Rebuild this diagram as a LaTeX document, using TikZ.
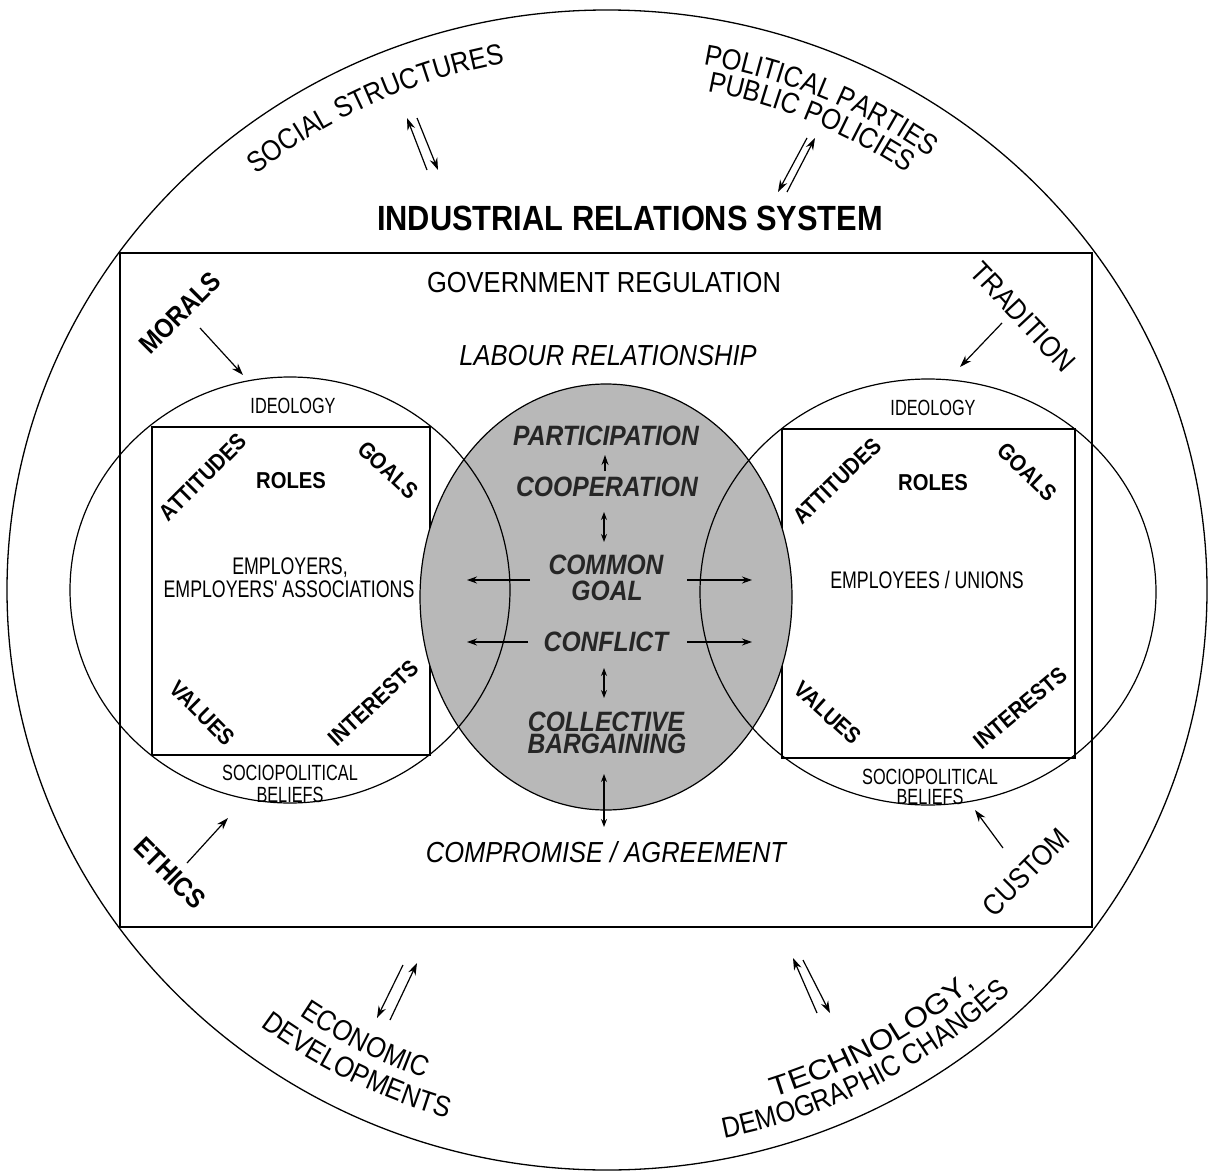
\documentclass[tikz,border=0pt]{standalone}
\usepackage{fontspec}
\setmainfont{Liberation Sans}
\newfontfamily\fA[FakeStretch=0.88]{Liberation Sans}
\newfontfamily\fB[FakeStretch=0.74]{Liberation Sans}
\newfontfamily\fC[FakeStretch=1.14]{Liberation Sans}
\usetikzlibrary{decorations.text,arrows.meta}
\tikzset{
  lbl/.style={font=\fA\fontsize{29}{31}\selectfont, inner sep=0pt},
  lbli/.style={font=\fA\itshape\fontsize{29}{31}\selectfont, inner sep=0pt},
  titl/.style={font=\fA\bfseries\fontsize{35}{37}\selectfont, inner sep=0pt},
  core/.style={font=\fA\bfseries\itshape\fontsize{28}{30}\selectfont, inner sep=0pt, text=black!85},
  cond/.style={font=\fB\fontsize{22}{24}\selectfont, inner sep=0pt},
  condl/.style={font=\fB\fontsize{24}{26}\selectfont, inner sep=0pt},
  diag/.style={font=\fA\bfseries\fontsize{23}{25}\selectfont, inner sep=0pt},
  outl/.style={font=\fA\fontsize{29}{31}\selectfont, inner sep=0pt},
  outb/.style={font=\fA\bfseries\fontsize{27}{29}\selectfont, inner sep=0pt},
  arr/.style={-{Stealth[length=12pt,width=8pt]}, line width=1.2pt},
  smarr/.style={-{Stealth[length=10pt,width=7pt]}, line width=1.1pt},
  dbl/.style={{Stealth[length=8pt,width=6pt]}-{Stealth[length=8pt,width=6pt]}, line width=1.1pt},
  shape line/.style={line width=1.2pt},
  curved/.style={decorate, decoration={text along path, text align=center, text={#1}}}
}
\begin{document}
\begin{tikzpicture}[x=1pt,y=-1pt]
\useasboundingbox (0,0) rectangle (1212,1174);
% outer circle and frame
\draw[line width=1.3pt] (607,590) ellipse [x radius=600, y radius=580];
\draw[line width=1.6pt] (120,253) rectangle (1092,927);
% inner squares (drawn under the shaded ellipse)
\draw[shape line] (152,427) rectangle (430,755);
\draw[shape line] (782,429) rectangle (1075,758);
% shaded central ellipse
\draw[shape line, fill=black!28] (606,597) ellipse [x radius=186, y radius=213];
% side circles
\draw[shape line] (290,590) ellipse [x radius=220, y radius=213];
\draw[shape line] (928,592) ellipse [x radius=228, y radius=213];

% title and frame texts
\node[titl] (irs) at (630,218) {INDUSTRIAL RELATIONS SYSTEM};
\node[lbl] (gov) at (604,283) {GOVERNMENT REGULATION};
\node[lbli] (lab) at (608,356) {LABOUR RELATIONSHIP};
\node[lbli] (comp) at (606,852) {COMPROMISE / AGREEMENT};

% core texts
\node[core] (part) at (606,436) {PARTICIPATION};
\node[core] (coop) at (607,487) {COOPERATION};
\node[core] (common) at (606,565) {COMMON};
\node[core] (goal) at (607,591) {GOAL};
\node[core] (confl) at (606,642) {CONFLICT};
\node[core] (coll) at (606,722) {COLLECTIVE};
\node[core] (barg) at (607,744) {BARGAINING};

% left circle texts
\node[cond] (ideoL) at (293,406) {IDEOLOGY};
\node[diag, rotate=45] (attL) at (203,477) {ATTITUDES};
\node[diag] (rolesL) at (291,481) {ROLES};
\node[diag, rotate=-43] (goalsL) at (388,470) {GOALS};
\node[condl] (empL1) at (290,568) {EMPLOYERS,};
\node[condl] (empL2) at (289,589) {EMPLOYERS' ASSOCIATIONS};
\node[diag, rotate=-45] (valL) at (202,713) {VALUES};
\node[diag, rotate=43] (intL) at (373,703) {INTERESTS};
\node[cond] (socL) at (290,773) {SOCIOPOLITICAL};
\node[cond] (belL) at (290,795) {BELIEFS};

% right circle texts
\node[cond] (ideoR) at (933,408) {IDEOLOGY};
\node[diag, rotate=44] (attR) at (837,481) {ATTITUDES};
\node[diag] (rolesR) at (933,483) {ROLES};
\node[diag, rotate=-44] (goalsR) at (1027,472) {GOALS};
\node[condl] (empR) at (927,580) {EMPLOYEES / UNIONS};
\node[diag, rotate=-42] (valR) at (828,713) {VALUES};
\node[diag, rotate=40] (intR) at (1020,708) {INTERESTS};
\node[cond] (socR) at (930,777) {SOCIOPOLITICAL};
\node[cond] (belR) at (930,797) {BELIEFS};

% corner influences
\node[outb, rotate=45] (morals) at (180,313) {MORALS};
\node[outl, rotate=-47] (trad) at (1023,317) {TRADITION};
\node[outb, rotate=-45] (ethics) at (170,873) {ETHICS};
\node[outl, rotate=45] (custom) at (1026,872) {CUSTOM};

% curved outer labels
\path[curved={|\fA\fontsize{29}{29}\selectfont|SOCIAL STRUCTURES}]
  (607,590) ++(-140:555 and 536) arc[start angle=-140, end angle=-90, x radius=555, y radius=536];
\path[curved={|\fA\fontsize{29}{29}\selectfont|POLITICAL PARTIES}]
  (607,590) ++(-92:552 and 534) arc[start angle=-92, end angle=-42, x radius=552, y radius=534];
\path[curved={|\fA\fontsize{29}{29}\selectfont|PUBLIC POLICIES}]
  (607,590) ++(-92:525 and 508) arc[start angle=-92, end angle=-42, x radius=525, y radius=508];
\path[curved={|\fA\fontsize{29}{29}\selectfont|ECONOMIC}]
  (607,590) ++(142:537 and 519) arc[start angle=142, end angle=93, x radius=537, y radius=519];
\path[curved={|\fA\fontsize{29}{29}\selectfont|DEVELOPMENTS}]
  (607,590) ++(142:569 and 550) arc[start angle=142, end angle=92, x radius=569, y radius=550];
\path[curved={|\fC\fontsize{28}{28}\selectfont|TECHNOLOGY,}]
  (607,590) ++(88:550 and 532) arc[start angle=88, end angle=32, x radius=550, y radius=532];
\path[curved={|\fA\fontsize{29}{29}\selectfont|DEMOGRAPHIC CHANGES}]
  (607,590) ++(87:579 and 560) arc[start angle=87, end angle=37, x radius=579, y radius=560];

% arrow end coordinates
\coordinate (s1a) at (427,170); \coordinate (s1b) at (407,118);
\coordinate (s2a) at (417,118); \coordinate (s2b) at (438,170);
\coordinate (p1a) at (807,138); \coordinate (p1b) at (778,192);
\coordinate (p2a) at (787,192); \coordinate (p2b) at (815,138);
\coordinate (e1a) at (403,965); \coordinate (e1b) at (377,1018);
\coordinate (e2a) at (390,1020); \coordinate (e2b) at (417,963);
\coordinate (t1a) at (817,1013); \coordinate (t1b) at (793,958);
\coordinate (t2a) at (803,960); \coordinate (t2b) at (830,1013);
\coordinate (mA) at (200,328); \coordinate (mB) at (243,375);
\coordinate (tA) at (1002,323); \coordinate (tB) at (960,367);
\coordinate (eA) at (187,863); \coordinate (eB) at (228,818);
\coordinate (cA) at (1003,848); \coordinate (cB) at (975,810);
\coordinate (upA) at (605,471); \coordinate (upB) at (605,455);
\coordinate (v1a) at (604,512); \coordinate (v1b) at (604,542);
\coordinate (v2a) at (604,668); \coordinate (v2b) at (604,698);
\coordinate (v3a) at (604,774); \coordinate (v3b) at (604,827);
\coordinate (hl1a) at (530,580); \coordinate (hl1b) at (467,580);
\coordinate (hl2a) at (528,642); \coordinate (hl2b) at (467,642);
\coordinate (hr1a) at (687,580); \coordinate (hr1b) at (752,580);
\coordinate (hr2a) at (687,642); \coordinate (hr2b) at (752,642);

% outer paired arrows
\draw[arr] (s1a) -- (s1b);
\draw[arr] (s2a) -- (s2b);
\draw[arr] (p1a) -- (p1b);
\draw[arr] (p2a) -- (p2b);
\draw[arr] (e1a) -- (e1b);
\draw[arr] (e2a) -- (e2b);
\draw[arr] (t1a) -- (t1b);
\draw[arr] (t2a) -- (t2b);
% corner arrows
\draw[arr] (mA) -- (mB);
\draw[arr] (tA) -- (tB);
\draw[arr] (eA) -- (eB);
\draw[arr] (cA) -- (cB);
% core arrows
\draw[smarr] (upA) -- (upB);
\draw[dbl] (v1a) -- (v1b);
\draw[dbl] (v2a) -- (v2b);
\draw[dbl] (v3a) -- (v3b);
\draw[smarr] (hl1a) -- (hl1b);
\draw[smarr] (hl2a) -- (hl2b);
\draw[smarr] (hr1a) -- (hr1b);
\draw[smarr] (hr2a) -- (hr2b);
\end{tikzpicture}
\end{document}
